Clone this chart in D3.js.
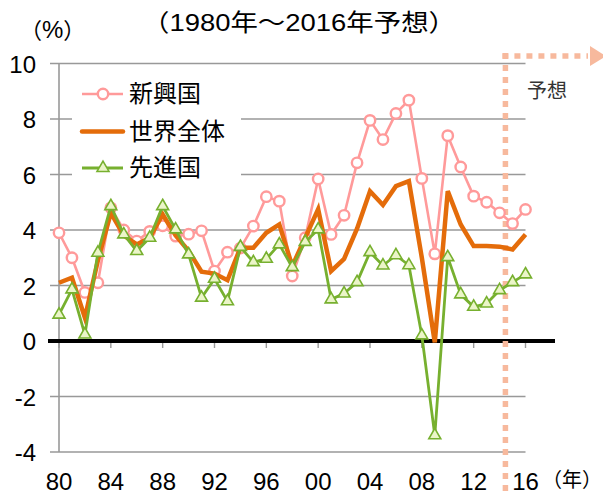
<!DOCTYPE html>
<html>
<head>
<meta charset="utf-8">
<script src="https://cdn.jsdelivr.net/npm/d3@7"></script>
<style>
  html, body { margin: 0; padding: 0; background: #fff; }
  #chart { width: 603px; height: 495px; overflow: hidden; }
</style>
</head>
<body>
<div id="chart"></div>
<script>
// Data
const years = [1980,1981,1982,1983,1984,1985,1986,1987,1988,1989,
               1990,1991,1992,1993,1994,1995,1996,1997,1998,1999,
               2000,2001,2002,2003,2004,2005,2006,2007,2008,2009,
               2010,2011,2012,2013,2014,2015,2016];
const emerging = [3.9,3.0,1.75,2.1,4.8,4.0,3.6,3.95,4.15,3.78,
                  3.85,3.97,2.52,3.2,3.35,4.14,5.2,5.04,2.34,3.72,
                  5.84,3.84,4.53,6.42,7.95,7.26,8.2,8.68,5.86,3.14,
                  7.4,6.27,5.22,5.0,4.62,4.23,4.74];
const world = [2.1,2.28,0.84,2.9,4.62,3.8,3.48,3.72,4.56,3.8,
               3.25,2.5,2.43,2.19,3.36,3.36,3.9,4.2,2.7,3.72,
               4.75,2.52,2.96,4.05,5.4,4.9,5.58,5.76,3.0,-0.05,
               5.4,4.2,3.42,3.42,3.4,3.3,3.84];
const advanced = [0.95,1.86,0.23,3.18,4.86,3.84,3.24,3.72,4.86,4.02,
                  3.12,1.56,2.24,1.43,3.39,2.84,2.96,3.48,2.66,3.57,
                  4.02,1.5,1.71,2.12,3.2,2.72,3.09,2.73,0.2,-3.4,
                  3.02,1.68,1.23,1.35,1.83,2.12,2.4];
const seriesNames = ["新興国", "世界全体", "先進国"];
const yTicks = [-4,-2,0,2,4,6,8,10];
const xTicks = [1980,1984,1988,1992,1996,2000,2004,2008,2012,2016];
const xTickLabels = ["80","84","88","92","96","00","04","08","12","16"];
const forecastYear = 2014.45;

// Configuration variables
const width = 603;
const height = 495;
const numFont = "'Liberation Sans', Arial, 'Noto Sans CJK JP', sans-serif";
const jpFont = "'Liberation Sans', Arial, 'Noto Sans CJK JP', sans-serif";
const cjkFont = "'Noto Sans CJK JP', sans-serif";
const _color_pink = "#ff9a9a";
const _color_orange = "#e46c0a";
const _color_green = "#77b02f";
const _color_tri = "#ebf5c8";
const _color_grid = "#999";
const _color_fc = "#f7b99d";

const x = d3.scaleLinear().domain([1980, 2016]).range([59, 525.5]);
const y = d3.scaleLinear().domain([-4, 10]).range([452, 63.5]);

const svg = d3.create("svg")
    .attr("width", width)
    .attr("height", height)
    .attr("viewBox", `0 0 ${width} ${height}`)
    .style("display", "block");

// Grid lines + tick stubs on the left
svg.append("g")
  .selectAll("line")
  .data(yTicks.filter(d => d !== 0))
  .join("line")
    .attr("x1", 50).attr("x2", x(2016))
    .attr("y1", d => y(d)).attr("y2", d => y(d))
    .attr("stroke", _color_grid)
    .attr("stroke-width", 1.4);

// Y axis line
svg.append("line")
    .attr("x1", x(1980)).attr("x2", x(1980))
    .attr("y1", y(10)).attr("y2", y(-4))
    .attr("stroke", _color_grid)
    .attr("stroke-width", 1.6);

// X tick marks under the zero line
svg.append("g")
  .selectAll("line")
  .data(xTicks)
  .join("line")
    .attr("x1", d => x(d)).attr("x2", d => x(d))
    .attr("y1", y(0)).attr("y2", y(0) + 7)
    .attr("stroke", _color_grid)
    .attr("stroke-width", 1.4);

// Zero line
svg.append("line")
    .attr("x1", 48).attr("x2", 555)
    .attr("y1", y(0)).attr("y2", y(0))
    .attr("stroke", "#000")
    .attr("stroke-width", 4);

// Y tick labels
svg.append("g")
    .style("font", `24px ${numFont}`)
    .attr("text-anchor", "end")
  .selectAll("text")
  .data(yTicks)
  .join("text")
    .attr("x", 36)
    .attr("y", d => y(d) + 9)
    .text(d => d);

// X tick labels
svg.append("g")
    .style("font", `24px ${numFont}`)
    .attr("text-anchor", "middle")
  .selectAll("text")
  .data(xTicks)
  .join("text")
    .attr("x", d => x(d))
    .attr("y", 490)
    .text((d, i) => xTickLabels[i]);

// Forecast marker (dotted line + arrow)
const fx = x(forecastYear);
svg.append("line")
    .attr("x1", fx).attr("x2", fx)
    .attr("y1", 53).attr("y2", 495)
    .attr("stroke", _color_fc)
    .attr("stroke-width", 5.5)
    .attr("stroke-dasharray", "6,6");
svg.append("line")
    .attr("x1", fx - 3).attr("x2", 588)
    .attr("y1", 56).attr("y2", 56)
    .attr("stroke", _color_fc)
    .attr("stroke-width", 5.5)
    .attr("stroke-dasharray", "6,6");
svg.append("path")
    .attr("d", "M590,46 L606,56 L590,66 Z")
    .attr("fill", _color_fc);

// Lines
const line = d3.line()
    .x((d, i) => x(years[i]))
    .y(d => y(d));

svg.append("path")
    .attr("d", line(emerging))
    .attr("fill", "none")
    .attr("stroke", _color_pink)
    .attr("stroke-width", 2.6)
    .attr("stroke-linejoin", "round");
svg.append("g")
  .selectAll("circle")
  .data(emerging)
  .join("circle")
    .attr("cx", (d, i) => x(years[i]))
    .attr("cy", d => y(d))
    .attr("r", 5.2)
    .attr("fill", "#fff")
    .attr("stroke", _color_pink)
    .attr("stroke-width", 2.4);

svg.append("path")
    .attr("d", line(world))
    .attr("fill", "none")
    .attr("stroke", _color_orange)
    .attr("stroke-width", 4.5)
    .attr("stroke-linejoin", "miter");

const tri = d3.symbol().type(d3.symbolTriangle).size(62);
svg.append("path")
    .attr("d", line(advanced))
    .attr("fill", "none")
    .attr("stroke", _color_green)
    .attr("stroke-width", 2.8)
    .attr("stroke-linejoin", "round");
svg.append("g")
  .selectAll("path")
  .data(advanced)
  .join("path")
    .attr("d", tri)
    .attr("transform", (d, i) => `translate(${x(years[i])},${y(d)})`)
    .attr("fill", _color_tri)
    .attr("stroke", _color_green)
    .attr("stroke-width", 1.6);

// Legend
const legend = svg.append("g");
legend.append("rect")
    .attr("x", 72).attr("y", 72)
    .attr("width", 169).attr("height", 110)
    .attr("fill", "#fff");
const legendRows = [
  {name: seriesNames[0], y: 94, color: _color_pink, w: 2.6, mark: "circle"},
  {name: seriesNames[1], y: 131.5, color: _color_orange, w: 4.5, mark: "none"},
  {name: seriesNames[2], y: 168, color: _color_green, w: 2.8, mark: "tri"}
];
legendRows.forEach(r => {
  legend.append("line")
      .attr("x1", 82).attr("x2", 123)
      .attr("y1", r.y).attr("y2", r.y)
      .attr("stroke", r.color)
      .attr("stroke-width", r.w)
      .attr("stroke-linecap", r.mark === "none" ? "round" : "butt");
  if (r.mark === "circle") {
    legend.append("circle")
        .attr("cx", 103).attr("cy", r.y).attr("r", 5.2)
        .attr("fill", "#fff").attr("stroke", r.color).attr("stroke-width", 2.4);
  } else if (r.mark === "tri") {
    legend.append("path")
        .attr("d", tri)
        .attr("transform", `translate(103,${r.y})`)
        .attr("fill", _color_tri).attr("stroke", r.color).attr("stroke-width", 1.6);
  }
  legend.append("text")
      .attr("x", 129)
      .attr("y", r.y + 8)
      .style("font", `24px ${jpFont}`)
      .attr("fill", "#000")
      .text(r.name);
});

// Titles and notes
const unit = svg.append("text")
    .attr("x", 20).attr("y", 38)
    .style("font", `22px ${cjkFont}`);
unit.append("tspan").text("（");
unit.append("tspan").style("font", `24px ${numFont}`).text("%");
unit.append("tspan").text("）");

svg.append("text")
    .attr("x", 142).attr("y", 31)
    .style("font", `24px ${jpFont}`)
    .attr("textLength", 314)
    .attr("lengthAdjust", "spacingAndGlyphs")
    .text("（1980年～2016年予想）");
svg.append("text")
    .attr("x", 527).attr("y", 98)
    .style("font", `20px ${jpFont}`)
    .attr("fill", "#333")
    .text("予想");
svg.append("text")
    .attr("x", 602).attr("y", 487)
    .attr("text-anchor", "end")
    .style("font", `20px ${cjkFont}`)
    .text("（年）");

document.getElementById("chart").appendChild(svg.node());
</script>
</body>
</html>
